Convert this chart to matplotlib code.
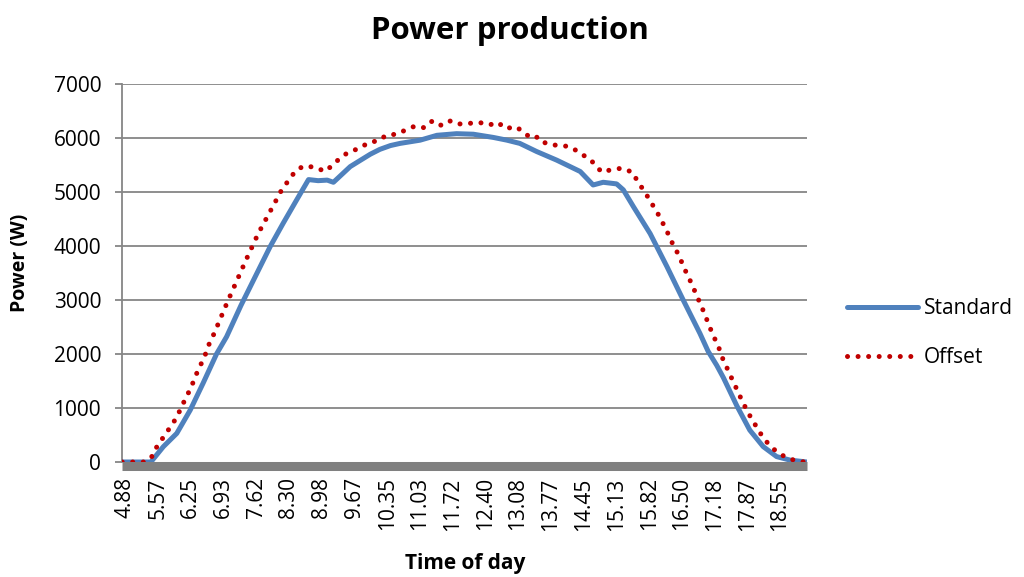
import matplotlib
matplotlib.use("Agg")
import matplotlib.pyplot as plt

# time of day in decimal hours, power in W
std_time = [4.82, 5.42, 5.68, 5.96, 6.24, 6.51, 6.79, 7.00, 7.30, 7.63, 7.91, 8.18,
            8.46, 8.71, 8.91, 9.10, 9.23, 9.58, 9.78, 10.00, 10.20, 10.42, 10.62,
            11.04, 11.39, 11.80, 12.15, 12.57, 12.85, 13.12, 13.47, 13.89, 14.24,
            14.38, 14.65, 14.86, 15.14, 15.28, 15.49, 15.84, 16.19, 16.53, 16.88,
            17.05, 17.23, 17.37, 17.65, 17.92, 18.20, 18.48, 18.76, 19.11]
std_power = [0, 0, 284, 530, 960, 1460, 2000, 2320, 2900, 3490, 3990, 4420,
             4850, 5230, 5210, 5220, 5180, 5470, 5580, 5700, 5790, 5860, 5900,
             5960, 6050, 6080, 6070, 6010, 5960, 5900, 5750, 5590, 5440,
             5380, 5130, 5180, 5150, 5040, 4730, 4230, 3620, 3000, 2380,
             2050, 1790, 1560, 1040, 590, 285, 100, 35, 0]

off_time = [4.82, 5.30, 5.46, 5.56, 5.70, 5.83, 5.96, 6.06, 6.17, 6.27, 6.36, 6.46,
            6.56, 6.64, 6.74, 7.02, 7.41, 7.66, 8.00, 8.15, 8.43, 8.60, 8.85, 9.05,
            9.22, 9.38, 9.56, 9.78, 9.96, 10.17, 10.34, 10.55, 10.74, 10.93, 11.13,
            11.30, 11.49, 11.68, 11.86, 12.06, 12.27, 12.48, 12.66, 12.83, 13.02,
            13.19, 13.35, 13.52, 13.66, 13.83, 14.03, 14.21, 14.40, 14.59, 14.74,
            14.84, 15.05, 15.26, 15.47, 15.59, 15.73, 15.85, 15.98, 16.09, 16.20,
            16.30, 16.41, 16.51, 16.60, 16.71, 16.80, 16.90, 16.99, 17.07, 17.17,
            17.27, 17.35, 17.45, 17.55, 17.65, 17.75, 17.86, 17.97, 18.10, 18.17,
            18.32, 18.50, 18.70, 18.93, 19.11]
off_power = [0, 0, 117, 315, 480, 655, 827, 1025, 1220, 1405, 1610, 1800,
             2000, 2195, 2380, 2970, 3750, 4230, 4790, 5040, 5380, 5480, 5460, 5380,
             5500, 5640, 5745, 5810, 5915, 5950, 6055, 6070, 6150, 6220, 6190,
             6320, 6230, 6320, 6260, 6270, 6290, 6240, 6290, 6170, 6215,
             6120, 5995, 6020, 5900, 5870, 5860, 5820, 5705, 5605, 5450,
             5365, 5420, 5440, 5365, 5180, 5000, 4820, 4635, 4450, 4255,
             4060, 3875, 3680, 3495, 3295, 3105, 2905, 2715, 2525, 2320,
             2125, 1925, 1730, 1535, 1345, 1150, 955, 780, 595, 490,
             320, 175, 75, 10, 0]

tick_labels = ["4.88", "5.57", "6.25", "6.93", "7.62", "8.30", "8.98", "9.67",
               "10.35", "11.03", "11.72", "12.40", "13.08", "13.77", "14.45",
               "15.13", "15.82", "16.50", "17.18", "17.87", "18.55"]

plt.rcParams['font.family'] = ['Open Sans', 'DejaVu Sans']

fig = plt.figure(figsize=(10.24, 5.77), dpi=100)
ax = fig.add_axes([122 / 1024, 115 / 577, 685 / 1024, 378 / 577])

grid_col = '#868686'
for s in ['top', 'right']:
    ax.spines[s].set_visible(False)
ax.spines['left'].set_color(grid_col)
ax.spines['left'].set_linewidth(1.3)
ax.spines['bottom'].set_position(('outward', 3))
ax.spines['bottom'].set_color('#808080')
ax.spines['bottom'].set_linewidth(6.5)
ax.spines['bottom'].set_capstyle('butt')

for v in range(1000, 8000, 1000):
    ax.axhline(v, color=grid_col, linewidth=1.3, zorder=1)

ax.plot(std_time, std_power, color='#4F81BD', linewidth=3.6,
        solid_capstyle='round', solid_joinstyle='round', label='Standard', zorder=3)
ax.plot(off_time, off_power, color='#C00000', linewidth=3.6,
        linestyle=(0, (0.01, 2.1)), dash_capstyle='round', label='Offset', zorder=4)

ax.set_xlim(4.817, 19.114)
ax.set_ylim(0, 7000)
ax.set_yticks(range(0, 8000, 1000))
ax.set_xticks([float(s) for s in tick_labels])
ax.set_xticklabels(tick_labels)

ax.tick_params(axis='y', length=5, width=1.3, color=grid_col, pad=10, labelsize=15)
ax.tick_params(axis='x', length=0, pad=8, labelsize=15, labelrotation=90)

fig.text(510 / 1024, 1 - 31 / 577, 'Power production', ha='center', va='center',
         fontsize=22.5, fontweight='bold')
fig.text(465 / 1024, 1 - 564 / 577, 'Time of day', ha='center', va='center',
         fontsize=15, fontweight='bold')
fig.text(20 / 1024, 1 - 263 / 577, 'Power (W)', ha='center', va='center',
         rotation=90, fontsize=14, fontweight='bold')

fig.legend(loc='center left', bbox_to_anchor=(837 / 1024, 1 - 333 / 577),
           frameon=False, fontsize=15, handlelength=3.4, handletextpad=0.25,
           labelspacing=1.35, borderpad=0)

fig.savefig('out.png', dpi=100)
